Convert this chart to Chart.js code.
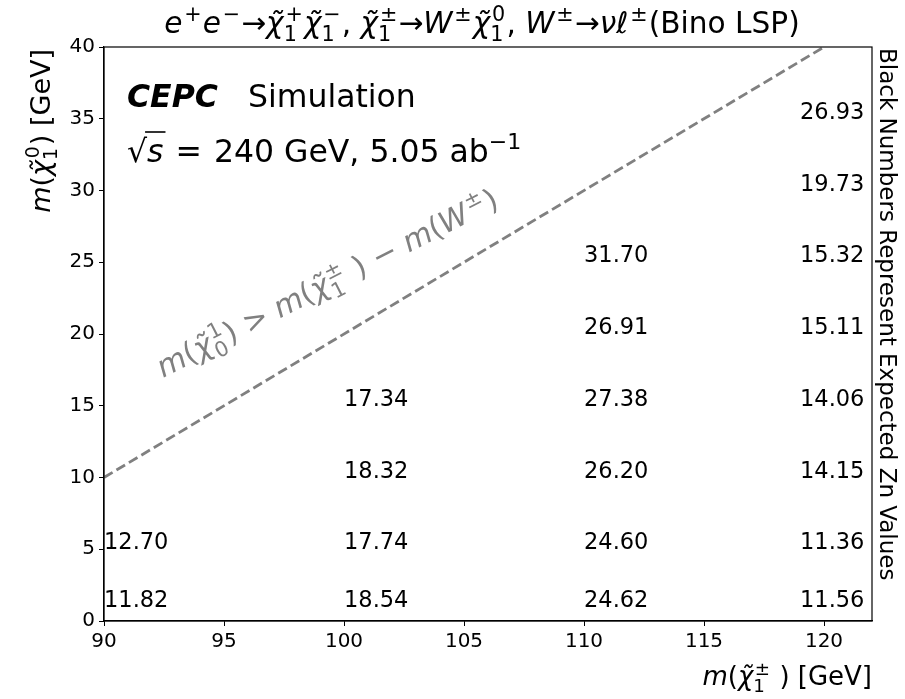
<!DOCTYPE html>
<html>
<head>
<meta charset="utf-8">
<script src="https://cdn.jsdelivr.net/npm/chart.js@4.4.1/dist/chart.umd.min.js"></script>
<style>
  html, body { margin: 0; padding: 0; background: #fff; }
</style>
</head>
<body>
<canvas id="znChart" width="905" height="699"></canvas>
<script>
// chargino mass where each column of numbers is anchored, neutralino mass rows
const charginoMass = [90, 100, 110, 119];
const neutralinoMass = [1, 5, 10, 15, 20, 25, 30, 35];
// expected Zn per column, bottom row first (null = no point)
const zn90  = [11.82, 12.70, null, null, null, null, null, null];
const zn100 = [18.54, 17.74, 18.32, 17.34, null, null, null, null];
const zn110 = [24.62, 24.60, 26.20, 27.38, 26.91, 31.70, null, null];
const zn120 = [11.56, 11.36, 14.15, 14.06, 15.11, 15.32, 19.73, 26.93];
const znColumns = [zn90, zn100, zn110, zn120];
// kinematic limit m(chi0) = m(chi+-) - m(W)
const limitX = [90, 120];
const limitY = [10, 40];
const xTicks = [90, 95, 100, 105, 110, 115, 120];
const yTicks = [0, 5, 10, 15, 20, 25, 30, 35, 40];

const znPoints = [];
znColumns.forEach((col, i) => {
  col.forEach((v, j) => {
    if (v !== null) znPoints.push({ x: charginoMass[i], y: neutralinoMass[j], zn: v });
  });
});

const FAM = '"DejaVu Sans", sans-serif';
function fnt(size, it, bold) {
  return (it ? 'italic ' : '') + (bold ? 'bold ' : '') + size + 'px ' + FAM;
}

// tiny mathtext-ish renderer: tokens with optional sup / sub scripts
function tokenWidth(ctx, tk, size) {
  ctx.font = fnt(size, tk.i, tk.b);
  let w = tk.t ? ctx.measureText(tk.t).width : 0;
  const ss = size * 0.7;
  ctx.font = fnt(ss);
  let sw = 0;
  if (tk.sup) sw = Math.max(sw, ctx.measureText(tk.sup).width + (tk.i ? size * 0.06 : 0));
  if (tk.sub) sw = Math.max(sw, ctx.measureText(tk.sub).width);
  if (sw) w += sw + size * 0.04;
  return w;
}
function drawRich(ctx, tokens, x, y, size, align) {
  let total = 0;
  tokens.forEach(tk => { total += tokenWidth(ctx, tk, size); });
  let cx = align === 'center' ? x - total / 2 : align === 'right' ? x - total : x;
  ctx.textAlign = 'left';
  ctx.textBaseline = 'alphabetic';
  tokens.forEach(tk => {
    ctx.font = fnt(size, tk.i, tk.b);
    if (tk.t) {
      ctx.fillText(tk.t, cx, y);
      cx += ctx.measureText(tk.t).width;
    }
    const ss = size * 0.7;
    ctx.font = fnt(ss);
    let sw = 0;
    if (tk.sup) {
      const dx = tk.i ? size * 0.06 : 0;
      ctx.fillText(tk.sup, cx + dx, y - size * 0.4);
      sw = Math.max(sw, ctx.measureText(tk.sup).width + dx);
    }
    if (tk.sub) {
      ctx.fillText(tk.sub, cx, y + size * (tk.sup ? 0.27 : 0.2));
      sw = Math.max(sw, ctx.measureText(tk.sub).width);
    }
    if (sw) cx += sw + size * 0.04;
  });
  return total;
}

const CHI = 'χ\u0303';
const titleTokens = [
  { t: 'e', i: true, sup: '+' }, { t: 'e', i: true, sup: '−' }, { t: '→' },
  { t: CHI, i: true, sup: '+', sub: '1' }, { t: CHI, i: true, sup: '−', sub: '1' }, { t: ', ' },
  { t: CHI, i: true, sup: '±', sub: '1' }, { t: '→' },
  { t: 'W', i: true, sup: '±' }, { t: CHI, i: true, sup: '0', sub: '1' }, { t: ', ' },
  { t: 'W', i: true, sup: '±' }, { t: '→' }, { t: 'ν', i: true }, { t: 'ℓ', i: true, sup: '±' },
  { t: '(Bino LSP)' }
];
const yLabelTokens = [{ t: 'm', i: true }, { t: '(' }, { t: CHI, i: true, sup: '0', sub: '1' }, { t: ') [GeV]' }];
const xLabelTokens = [{ t: 'm', i: true }, { t: '(' }, { t: CHI, i: true, sup: '±', sub: '1' }, { t: ' ) [GeV]' }];
const limitTokens = [
  { t: 'm', i: true }, { t: '(' }, { t: CHI, i: true, sup: '1', sub: '0' }, { t: ') > ' },
  { t: 'm', i: true }, { t: '(' }, { t: CHI, i: true, sup: '±', sub: '1' }, { t: ' ) − ' },
  { t: 'm', i: true }, { t: '(' }, { t: 'W', i: true, sup: '±' }, { t: ')' }
];

const textPlugin = {
  id: 'texts',
  afterDatasetsDraw(chart) {
    const ctx = chart.ctx;
    const meta = chart.getDatasetMeta(1);
    ctx.save();
    ctx.fillStyle = '#000';
    ctx.font = fnt(22.5);
    ctx.textAlign = 'left';
    ctx.textBaseline = 'alphabetic';
    meta.data.forEach((el, k) => {
      ctx.fillText(znPoints[k].zn.toFixed(2), el.x, el.y);
    });
    ctx.restore();
  },
  afterDraw(chart) {
    const ctx = chart.ctx;
    const a = chart.chartArea;
    ctx.save();
    // frame
    ctx.strokeStyle = '#000';
    ctx.lineWidth = 1.2;
    ctx.strokeRect(a.left, a.top, a.right - a.left, a.bottom - a.top);

    ctx.fillStyle = '#000';
    // title
    drawRich(ctx, titleTokens, 482, 33, 29.6, 'center');

    // CEPC Simulation
    ctx.font = fnt(31.5, true, true);
    ctx.textAlign = 'left';
    ctx.fillText('CEPC', 127, 107);
    ctx.font = fnt(31.5);
    ctx.fillText('Simulation', 248, 107);

    // sqrt(s) = 240 GeV line
    let x = 127;
    const by = 162;
    ctx.font = fnt(31.5);
    ctx.fillText('√', x, by);
    x += ctx.measureText('√').width;
    ctx.font = fnt(31.5, true);
    ctx.fillText('s', x, by);
    const sw = ctx.measureText('s').width;
    ctx.lineWidth = 1.6;
    ctx.beginPath();
    ctx.moveTo(x - 2, by - 30);
    ctx.lineTo(x + sw + 2, by - 30);
    ctx.stroke();
    x += sw + 12;
    ctx.font = fnt(31.5);
    ctx.fillText('=', x, by);
    x += ctx.measureText('=').width + 12;
    drawRich(ctx, [{ t: '240 GeV, 5.05 ab', sup: '−1' }], x, by, 31.5, 'left');

    // axis titles
    drawRich(ctx, xLabelTokens, a.right, 685, 26, 'right');
    ctx.save();
    ctx.translate(50, a.top + 2);
    ctx.rotate(-Math.PI / 2);
    drawRich(ctx, yLabelTokens, 0, 0, 27, 'right');
    ctx.restore();

    // right-hand note
    ctx.save();
    ctx.translate(880, a.top + 1);
    ctx.rotate(Math.PI / 2);
    ctx.font = fnt(23);
    ctx.textAlign = 'left';
    ctx.fillText('Black Numbers Represent Expected Zn Values', 0, 0);
    ctx.restore();

    // label along the kinematic limit
    ctx.save();
    ctx.fillStyle = '#808080';
    ctx.translate(163, 378);
    ctx.rotate(-27 * Math.PI / 180);
    drawRich(ctx, limitTokens, 0, 0, 30, 'left');
    ctx.restore();

    ctx.restore();
  }
};

const tickStyle = { color: '#000', font: { family: 'DejaVu Sans', size: 20 }, padding: 4, autoSkip: false, maxRotation: 0 };

const chart = new Chart(document.getElementById('znChart').getContext('2d'), {
  type: 'scatter',
  data: {
    datasets: [
      {
        label: 'limit',
        data: limitX.map((v, i) => ({ x: v, y: limitY[i] })),
        showLine: true,
        borderColor: '#808080',
        borderWidth: 2.8,
        borderDash: [10, 4.5],
        pointRadius: 0,
        fill: false
      },
      {
        label: 'Zn',
        data: znPoints,
        pointRadius: 0,
        showLine: false
      }
    ]
  },
  options: {
    responsive: false,
    animation: false,
    layout: { padding: { top: 47, right: 33, left: 0, bottom: 0 } },
    plugins: {
      legend: { display: false },
      tooltip: { enabled: false },
      title: { display: false }
    },
    scales: {
      x: {
        type: 'linear',
        min: 90,
        max: 122,
        afterBuildTicks: s => { s.ticks = xTicks.map(v => ({ value: v })); },
        afterFit: s => { s.height = 78; },
        grid: { drawOnChartArea: false, tickLength: 5, color: '#000', lineWidth: 1 },
        border: { color: '#000', width: 1.2 },
        ticks: tickStyle
      },
      y: {
        type: 'linear',
        min: 0,
        max: 40,
        afterBuildTicks: s => { s.ticks = yTicks.map(v => ({ value: v })); },
        afterFit: s => { s.width = 104; },
        grid: { drawOnChartArea: false, tickLength: 5, color: '#000', lineWidth: 1 },
        border: { color: '#000', width: 1.2 },
        ticks: tickStyle
      }
    }
  },
  plugins: [textPlugin]
});
</script>
</body>
</html>
